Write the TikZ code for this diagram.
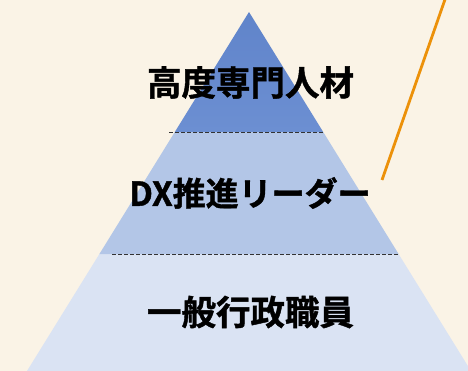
\documentclass[tikz,border=0pt]{standalone}
\usepackage{fontspec}
\newfontfamily\cjk[FakeBold=1.2]{Noto Sans CJK JP Bold}
\definecolor{bg}{RGB}{250,243,230}
\definecolor{topblue}{RGB}{96,132,202}
\definecolor{topblueB}{RGB}{108,143,210}
\definecolor{midblue}{RGB}{179,198,231}
\definecolor{lowblue}{RGB}{218,227,243}
\definecolor{orangeline}{RGB}{236,145,10}
\tikzset{
  layerlabel/.style={font=\cjk\fontsize{34.5}{38}\selectfont, text=black, inner sep=0pt},
  sepline/.style={draw=black!80, line width=0.9pt, dash pattern=on 4pt off 2pt},
}
\begin{document}
\begin{tikzpicture}[x=1pt,y=-1pt]
\fill[bg] (0,0) rectangle (468,371);
\useasboundingbox (0,0) rectangle (468,371);
% layers
\coordinate (apex) at (249,12);
\fill[lowblue] (99.4,254) -- (398.6,254) -- (471,371) -- (27,371) -- cycle;
\fill[midblue] (174.8,132) -- (323.2,132) -- (398.6,254) -- (99.4,254) -- cycle;
\shade[top color=topblue, bottom color=topblueB] (apex) -- (323.2,132) -- (174.8,132) -- cycle;
% separators
\coordinate (s1l) at (169,132); \coordinate (s1r) at (324,132);
\coordinate (s2l) at (112,254); \coordinate (s2r) at (398,254);
\draw[sepline] (s1l) -- (s1r);
\draw[sepline] (s2l) -- (s2r);
% labels
\node[layerlabel] (top) at (250.5,82.5) {高度専門人材};
\node[layerlabel, font=\cjk\fontsize{33}{36}\selectfont] (mid) at (250,193) {DX推進リーダー};
\node[layerlabel] (low) at (250.5,312) {一般行政職員};
% orange line
\coordinate (o1) at (445.5,-2);
\coordinate (o2) at (382,180);
\draw[orangeline, line width=2.8pt] (o1) -- (o2);
\end{tikzpicture}
\end{document}
